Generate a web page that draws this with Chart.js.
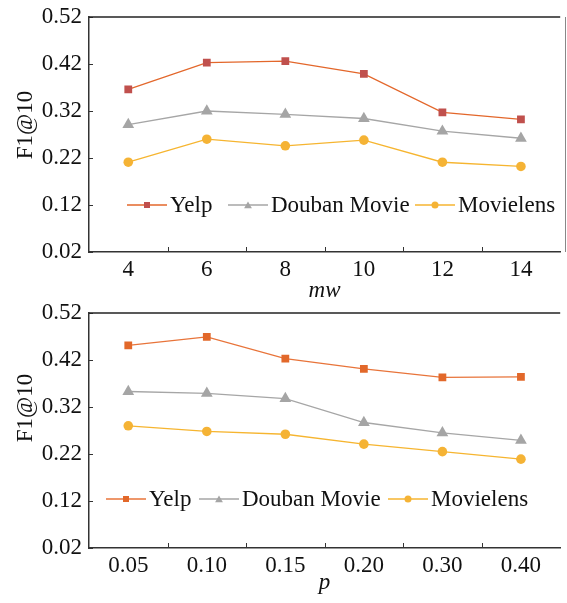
<!DOCTYPE html>
<html><head><meta charset="utf-8">
<script src="https://cdn.jsdelivr.net/npm/chart.js@4"></script>
<style>
html,body{margin:0;padding:0;background:#fff;}
#w{position:relative;width:567px;height:603px;overflow:hidden;}
#c1{position:absolute;left:0;top:0;}
#c2{position:absolute;left:0;top:300px;}
</style></head><body>
<div id="w"><canvas id="c1" width="567" height="300"></canvas><canvas id="c2" width="567" height="303"></canvas></div>
<script>
const mwCategories = ['4','6','8','10','12','14'];
const pCategories = ['0.05','0.10','0.15','0.20','0.30','0.40'];
const yTickValues = [0.02,0.12,0.22,0.32,0.42,0.52];
const seriesNames = ['Yelp','Douban Movie','Movielens'];
const yAxisTitle = 'F1@10';
const mwYelp = [0.366,0.423,0.426,0.399,0.317,0.302];
const mwDouban = [0.291,0.320,0.313,0.304,0.277,0.262];
const mwMovielens = [0.211,0.260,0.246,0.258,0.211,0.202];
const pYelp = [0.451,0.469,0.423,0.401,0.383,0.384];
const pDouban = [0.353,0.349,0.338,0.287,0.265,0.249];
const pMovielens = [0.280,0.268,0.262,0.241,0.225,0.209];

const FONT = '"Liberation Serif", "Times New Roman", serif';
const FS = 23;
const TXT = '#111';

function marker(ctx, style, x, y, r, color){
  ctx.fillStyle = color;
  ctx.beginPath();
  if (style === 'rect') {
    ctx.rect(x - r, y - r, 2*r, 2*r);
  } else if (style === 'triangle') {
    ctx.moveTo(x, y - r);
    ctx.lineTo(x + r*0.866, y + r*0.5);
    ctx.lineTo(x - r*0.866, y + r*0.5);
    ctx.closePath();
  } else {
    ctx.arc(x, y, r, 0, Math.PI*2);
  }
  ctx.fill();
}

const decor = {
  id: 'decor',
  afterDraw(chart, args, o) {
    const ctx = chart.ctx, ca = chart.chartArea, xs = chart.scales.x, ys = chart.scales.y;
    ctx.save();
    ctx.strokeStyle = '#333'; ctx.lineWidth = 1;
    ys.ticks.forEach(t => {
      const y = Math.round(ys.getPixelForValue(t.value)) + 0.5;
      ctx.beginPath(); ctx.moveTo(ca.left, y); ctx.lineTo(ca.left + 4, y); ctx.stroke();
    });
    for (let i = 1; i < xs.ticks.length; i++) {
      const x = Math.round((xs.getPixelForTick(i-1) + xs.getPixelForTick(i)) / 2) + 0.5;
      ctx.beginPath(); ctx.moveTo(x, ca.bottom); ctx.lineTo(x, ca.bottom - 5); ctx.stroke();
    }
    ctx.strokeStyle = '#222'; ctx.lineWidth = 1.5;
    ctx.beginPath(); ctx.moveTo(ca.left, ca.top); ctx.lineTo(ca.right, ca.top); ctx.stroke();
    if (o.rightBorder) {
      ctx.strokeStyle = '#888'; ctx.lineWidth = 1;
      ctx.beginPath(); ctx.moveTo(o.rightBorder, ca.top); ctx.lineTo(o.rightBorder, ca.bottom); ctx.stroke();
    }
    // y title
    ctx.save();
    ctx.translate(o.yTitleX, o.yTitleY); ctx.rotate(-Math.PI/2);
    ctx.font = FS + 'px ' + FONT; ctx.fillStyle = TXT; ctx.textAlign = 'center'; ctx.textBaseline = 'middle';
    ctx.fillText(yAxisTitle, 0, 0);
    ctx.restore();
    // legend
    chart.data.datasets.forEach((ds, i) => {
      const x0 = o.legendX[i], y = o.legendY;
      ctx.strokeStyle = ds.borderColor; ctx.lineWidth = 1.3;
      ctx.beginPath(); ctx.moveTo(x0, y); ctx.lineTo(x0 + 40, y); ctx.stroke();
      const r = ds.pointStyle === 'rect' ? 3 : (ds.pointStyle === 'triangle' ? 4.5 : 3.5);
      marker(ctx, ds.pointStyle, x0 + 20, y + (ds.pointStyle === 'triangle' ? 1 : 0), r, ds.pointBackgroundColor);
      ctx.font = FS + 'px ' + FONT; ctx.fillStyle = TXT; ctx.textAlign = 'left'; ctx.textBaseline = 'middle';
      ctx.fillText(ds.label, x0 + 43, y + 1);
    });
    ctx.restore();
  }
};

function makeChart(id, cats, yelp, douban, movielens, xTitle, o) {
  return new Chart(document.getElementById(id), {
    type: 'line',
    data: {
      labels: cats,
      datasets: [
        {label: seriesNames[0], data: yelp, borderColor: o.yelpLine, backgroundColor: o.yelpMark,
         pointBackgroundColor: o.yelpMark, pointBorderColor: o.yelpMark, pointStyle: 'rect', pointRadius: 5.5, pointBorderWidth: 0, borderWidth: 1.3},
        {label: seriesNames[1], data: douban, borderColor: '#a6a6a6', backgroundColor: '#a5a5a5',
         pointBackgroundColor: '#a5a5a5', pointBorderColor: '#a5a5a5', pointStyle: 'triangle', pointRadius: 6.8, pointBorderWidth: 0, borderWidth: 1.3},
        {label: seriesNames[2], data: movielens, borderColor: '#f6b530', backgroundColor: '#f5b335',
         pointBackgroundColor: '#f5b335', pointBorderColor: '#f5b335', pointStyle: 'circle', pointRadius: 4.8, pointBorderWidth: 0, borderWidth: 1.3}
      ]
    },
    options: {
      responsive: false, animation: false, devicePixelRatio: 1,
      layout: {padding: {top: o.padTop, right: 0, left: 0, bottom: 0}},
      plugins: {legend: {display: false}, tooltip: {enabled: false}, decor: o.decor},
      scales: {
        x: {
          type: 'category', offset: true,
          grid: {display: false},
          border: {display: true, color: '#333', width: 1.5},
          ticks: {font: {family: FONT, size: FS}, color: TXT, padding: o.xPad, maxRotation: 0, autoSkip: false},
          title: {display: true, text: xTitle, color: TXT, font: {family: FONT, size: FS, style: 'italic', lineHeight: 1}, padding: {top: 0, bottom: o.titlePad}},
          afterFit(s) { s.height = o.xHeight; }
        },
        y: {
          min: 0.02, max: 0.52,
          grid: {display: false},
          border: {display: true, color: '#333', width: 1.5},
          ticks: {font: {family: FONT, size: FS}, color: TXT, padding: -1, callback: v => Number(v).toFixed(2)},
          afterBuildTicks(s) { s.ticks = yTickValues.map(v => ({value: v})); },
          afterFit(s) { s.width = 89; }
        }
      }
    },
    plugins: [decor]
  });
}

makeChart('c1', mwCategories, mwYelp, mwDouban, mwMovielens, 'mw', {
  yelpLine: '#e3672b', yelpMark: '#c0504d', padTop: 17, xHeight: 48, xPad: -4, titlePad: -2,
  decor: {rightBorder: 565.5, yTitleX: 25.6, yTitleY: 125, legendY: 205, legendX: [127, 228, 415]}
});
makeChart('c2', pCategories, pYelp, pDouban, pMovielens, 'p', {
  yelpLine: '#e8743a', yelpMark: '#e2682a', padTop: 13, xHeight: 55, xPad: -4, titlePad: 9,
  decor: {rightBorder: 0, yTitleX: 25.6, yTitleY: 108, legendY: 199, legendX: [106, 199, 388]}
});
</script>
</body></html>
